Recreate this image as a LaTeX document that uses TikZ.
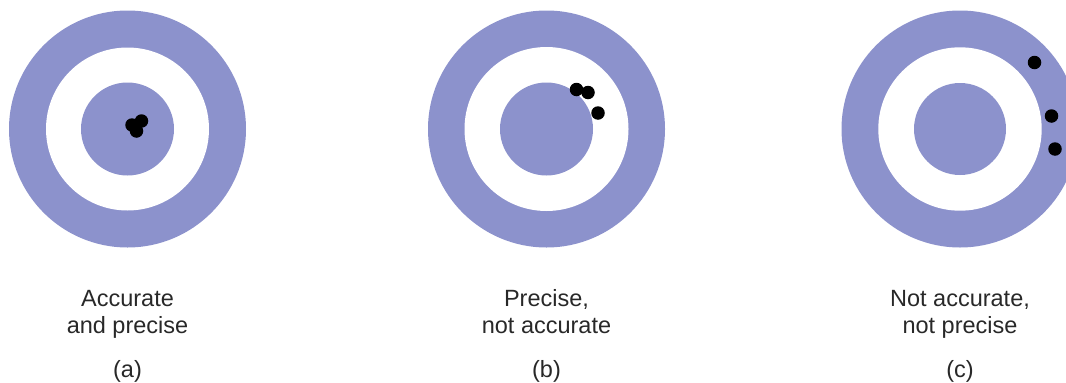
\documentclass[tikz,border=0pt]{standalone}
\usepackage{fontspec}
\setmainfont{Liberation Sans}
\definecolor{ring}{RGB}{140,146,204}
\definecolor{txt}{RGB}{40,40,40}
\tikzset{
  outerdisk/.style={fill=ring},
  whitedisk/.style={fill=white},
  hit/.style={circle,fill=black,inner sep=0pt,minimum size=13.5pt},
  lab/.style={text=txt,font=\fontsize{23.5}{27}\selectfont,align=center,anchor=base,inner sep=0pt}
}
\begin{document}
\begin{tikzpicture}[x=1pt,y=-1pt]
\useasboundingbox (0,0) rectangle (1066,383);
\begin{scope}
\clip (0,0) rectangle (1066,383);
% target a
\fill[outerdisk] (127.5,129) circle (118.5);
\fill[whitedisk] (127.5,129) circle (81.5);
\fill[outerdisk] (127.5,129) circle (46.5);
% target b
\fill[outerdisk] (546.5,129) circle (118.5);
\fill[whitedisk] (546.5,129) circle (82);
\fill[outerdisk] (546.5,129) circle (46.5);
% target c
\fill[outerdisk] (960,129) circle (118.5);
\fill[whitedisk] (960,129) circle (81.7);
\fill[outerdisk] (960,129) circle (46);
\end{scope}
% hits a
\node[hit] (a1) at (132,125) {};
\node[hit] (a2) at (141.5,121) {};
\node[hit] (a3) at (136.5,131) {};
% hits b
\node[hit] (b1) at (576.5,89.5) {};
\node[hit] (b2) at (588,92.5) {};
\node[hit] (b3) at (598,113) {};
% hits c
\node[hit] (c1) at (1034.5,62.5) {};
\node[hit] (c2) at (1051.5,116) {};
\node[hit] (c3) at (1055,149) {};
% labels
\node[lab] (la) at (127.5,333) {Accurate\\and precise};
\node[lab] (lb) at (546.5,333) {Precise,\\not accurate};
\node[lab] (lc) at (960,333) {Not accurate,\\not precise};
\node[lab] (pa) at (127.5,377) {(a)};
\node[lab] (pb) at (546.5,377) {(b)};
\node[lab] (pc) at (960,377) {(c)};
\end{tikzpicture}
\end{document}
